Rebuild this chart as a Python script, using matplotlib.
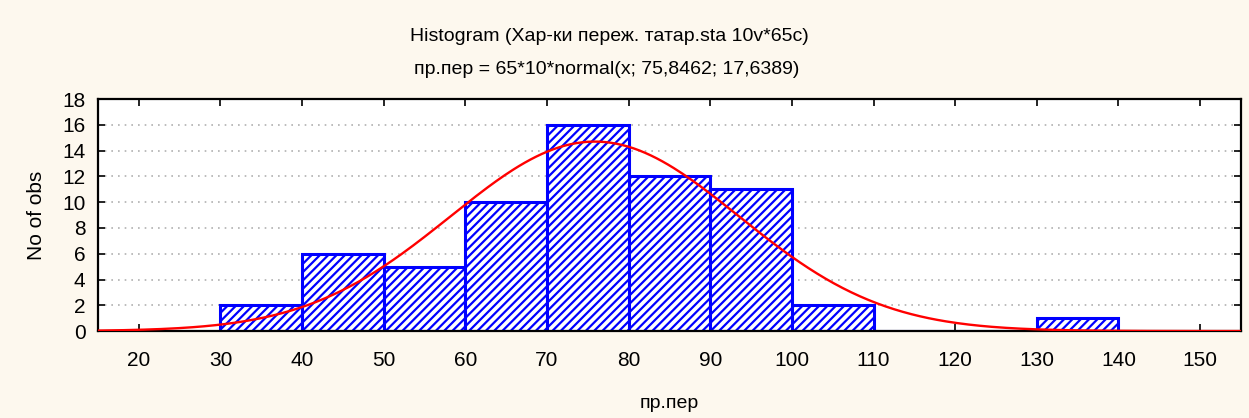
import numpy as np
import matplotlib
matplotlib.use('Agg')
from matplotlib import pyplot as plt

plt.rcParams['font.family'] = ['Liberation Sans', 'DejaVu Sans']
plt.rcParams['hatch.color'] = '#0000ff'
plt.rcParams['hatch.linewidth'] = 1.6

# histogram of пр.пер
bin_edges = [30, 40, 50, 60, 70, 80, 90, 100, 110, 120, 130, 140]
counts = [2, 6, 5, 10, 16, 12, 11, 2, 0, 0, 1]

# fitted normal curve parameters from the chart subtitle
n_obs = 65
bin_width = 10
mean = 75.8462
sd = 17.6389

x_ticks = [20, 30, 40, 50, 60, 70, 80, 90, 100, 110, 120, 130, 140, 150]
y_ticks = [0, 2, 4, 6, 8, 10, 12, 14, 16, 18]

fig = plt.figure(figsize=(12.49, 4.18), dpi=100, facecolor='#fdf8ee')
ax = fig.add_axes([0.0785, 0.208, 0.915, 0.555])
ax.set_facecolor('white')

lefts = bin_edges[:-1]
ax.bar(lefts, counts, width=bin_width, align='edge', facecolor='white',
       edgecolor='#0000ff', linewidth=2.2, hatch='////', zorder=2)

xs = np.linspace(15, 155, 400)
curve = n_obs * bin_width * np.exp(-0.5 * ((xs - mean) / sd) ** 2) / (sd * np.sqrt(2 * np.pi))
ax.plot(xs, curve, color='#ff0000', linewidth=1.7, zorder=3)

ax.set_xlim(15, 155)
ax.set_ylim(0, 18)
ax.set_xticks(x_ticks)
ax.set_yticks(y_ticks)
ax.yaxis.grid(True, color='#b0b0b0', linestyle=(0, (1, 3)), linewidth=1.2, zorder=0)
ax.set_axisbelow(True)
ax.tick_params(direction='in', top=True, right=True, length=5, width=1.2,
               labelsize=15, colors='black')
ax.tick_params(axis='x', pad=14)
ax.tick_params(axis='y', pad=9)
for s in ax.spines.values():
    s.set_linewidth(1.6)
    s.set_color('black')

ax.set_xlabel('пр.пер', fontsize=14, labelpad=18)
ax.set_ylabel('No of obs', fontsize=15, labelpad=12)

fig.text(0.488, 0.912, 'Histogram (Хар-ки переж. татар.sta 10v*65c)', ha='center', va='center', fontsize=14)
fig.text(0.486, 0.833, 'пр.пер = 65*10*normal(x; 75,8462; 17,6389)', ha='center', va='center', fontsize=14)

fig.savefig('out.png', dpi=100, facecolor=fig.get_facecolor())
